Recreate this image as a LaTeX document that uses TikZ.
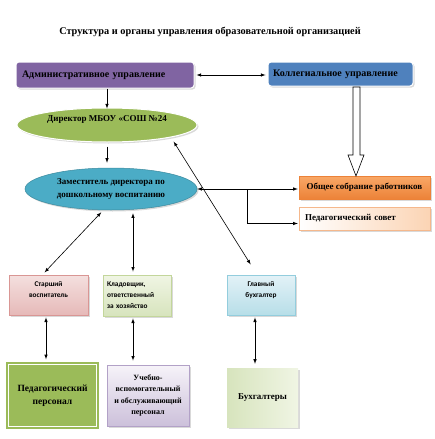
\documentclass[tikz,border=0pt]{standalone}
\usepackage{fontspec}
\setmainfont{Liberation Serif}
\newfontfamily\calibfont{Carlito}
\usetikzlibrary{shapes.geometric,shadows}

\definecolor{admincol}{HTML}{8064A2}
\definecolor{kolcol}{HTML}{4F81BD}
\definecolor{dircol}{HTML}{9BBB59}
\definecolor{depcol}{HTML}{4BACC6}
\definecolor{orangetop}{HTML}{F9A867}
\definecolor{orangebot}{HTML}{EC8238}
\definecolor{peach}{HTML}{FBD4B4}
\definecolor{peachline}{HTML}{F5B88C}
\definecolor{pinktop}{HTML}{F4E0DF}
\definecolor{pinkbot}{HTML}{E6B9B8}
\definecolor{pinkline}{HTML}{D99694}
\definecolor{limetop}{HTML}{F0F5E4}
\definecolor{limebot}{HTML}{D7E4BD}
\definecolor{limeline}{HTML}{C3D69B}
\definecolor{icetop}{HTML}{E3F2F7}
\definecolor{icebot}{HTML}{B7DEE8}
\definecolor{iceline}{HTML}{93CDDD}
\definecolor{lilactop}{HTML}{F6F3F9}
\definecolor{lilacbot}{HTML}{CCC0DA}
\definecolor{lilacline}{HTML}{B2A1C7}

\tikzset{
    softshadow/.style={drop shadow={shadow xshift=1.5pt, shadow yshift=-1.5pt, opacity=0.3}},
    % upper rounded boxes
    topbox/.style={rectangle, rounded corners=3pt, draw=white, line width=1pt,
        align=left, inner sep=6pt, softshadow,
        font=\bfseries\fontsize{10}{11}\selectfont},
    % ellipses
    oval/.style={ellipse, draw=white, line width=1pt, inner sep=0pt, align=center,
        softshadow, font=\bfseries\fontsize{9}{13}\selectfont},
    % boxes on the right
    sidebox/.style={rectangle, align=left, inner sep=6pt, softshadow,
        font=\bfseries\fontsize{9}{10}\selectfont},
    % small staff boxes
    staffbox/.style={rectangle, line width=0.8pt, align=center, softshadow,
        font=\calibfont\bfseries\fontsize{7.3}{11}\selectfont},
    % bottom boxes
    crewbox/.style={rectangle, align=center, softshadow,
        font=\bfseries\fontsize{9.5}{13}\selectfont},
    link/.style={<->, >=latex, line width=0.6pt},
    onelink/.style={->, >=latex, line width=0.6pt}
}

\begin{document}
\begin{tikzpicture}[x=1pt,y=-1pt]
    \useasboundingbox (0,0) rectangle (435,439);

    \node[font=\bfseries\fontsize{10.3}{12}\selectfont] (title) at (210,32)
        {Структура и органы управления образовательной организацией};

    \node[topbox, fill=admincol, minimum width=178pt, minimum height=26pt, text width=166pt] (admin) at (105,75)
        {Административное управление\\[2pt]};
    \node[topbox, fill=kolcol, minimum width=145pt, minimum height=24pt, text width=135pt, inner xsep=5pt] (kol) at (340.5,74)
        {Коллегиальное управление\\[1pt]};

    \node[oval, fill=dircol, minimum width=180pt, minimum height=34pt] (dir) at (107,125)
        {Директор МБОУ «СОШ №24\\[0pt]};
    \node[oval, fill=depcol, draw=depcol!80!black, line width=0.5pt, minimum width=172pt, minimum height=42pt] (dep) at (111,189)
        {Заместитель директора по\\дошкольному воспитанию};

    \node[sidebox, top color=orangetop, bottom color=orangebot, draw=orangebot, minimum width=131pt, minimum height=23pt, inner sep=2pt] (obsh) at (364.5,187.5)
        {Общее собрание работников};
    \node[sidebox, left color=white, right color=peach, draw=peachline, minimum width=131pt, minimum height=23pt, text width=119pt] (pedsov) at (364.5,218.5)
        {Педагогический совет};

    \node[staffbox, top color=pinktop, bottom color=pinkbot, draw=pinkline, minimum width=79pt, minimum height=40pt] (starsh) at (48.5,295)
        {Старший\\воспитатель\\[0pt]};
    \node[staffbox, top color=limetop, bottom color=limebot, draw=limeline, minimum width=68pt, minimum height=41pt, align=left, text width=60pt, inner xsep=4pt] (klad) at (137,295.5)
        {Кладовщик,\\ответственный\\за хозяйство};
    \node[staffbox, top color=icetop, bottom color=icebot, draw=iceline, minimum width=68pt, minimum height=40pt] (glav) at (261,295)
        {Главный\\бухгалтер\\[0pt]};

    \node[crewbox, fill=dircol, draw=dircol, double=white, double distance=0.8pt, line width=2.5pt, minimum width=88pt, minimum height=62pt] (pedpers) at (52.5,395.5)
        {Педагогический\\персонал};
    \node[crewbox, top color=lilactop, bottom color=lilacbot, draw=lilacline, line width=0.8pt, minimum width=82pt, minimum height=61pt, inner sep=1pt, font=\bfseries\fontsize{8}{11.3}\selectfont] (uch) at (148,395.5)
        {Учебно-\\вспомогательный\\и обслуживающий\\персонал};
    \node[crewbox, left color=limebot, right color=limetop, minimum width=71pt, minimum height=59pt, font=\bfseries\fontsize{9}{11}\selectfont] (buh) at (262.5,397.5)
        {Бухгалтеры};

    % hollow arrow from the collegial branch
    \draw[fill=white, line width=0.6pt] (353,87) -- (353,155) -- (348,155) -- (356,176)
        -- (364,155) -- (360,155) -- (360,87) -- cycle;

    \draw[link, shorten <=2pt, shorten >=2pt] (admin.east) -- (admin.east -| kol.west);
    \draw[onelink] (admin.south -| dir.north) -- ++(0,20);
    \draw[onelink, shorten <=4pt, shorten >=5pt] (dir.south) -- (dir.south |- dep.north);

    \draw[link, shorten >=1pt] (dep.east) -- (dep.east -| obsh.west);
    \coordinate (split) at (247,190);
    \draw[onelink, shorten >=1pt] (split) |- ([yshift=-5pt]pedsov.west);

    \draw[link, shorten <=12pt, shorten >=5pt] ([xshift=-4pt]glav.north) -- (dir.south east);
    \draw[link, shorten <=3pt, shorten >=3pt] ([xshift=-6pt]starsh.north) -- (dep.250);
    \draw[link, shorten <=3pt, shorten >=3pt] ([xshift=-4pt]klad.north) -- ([xshift=-4pt]klad.north |- dep.south);

    \foreach \up/\down/\s in {starsh/pedpers/-2.5, klad/uch/-4, glav/buh/-6}{
        \draw[link, shorten <=2pt, shorten >=4pt] ([xshift=\s pt]\up.south) -- ([xshift=\s pt]\up.south |- \down.north);
    }
\end{tikzpicture}
\end{document}
